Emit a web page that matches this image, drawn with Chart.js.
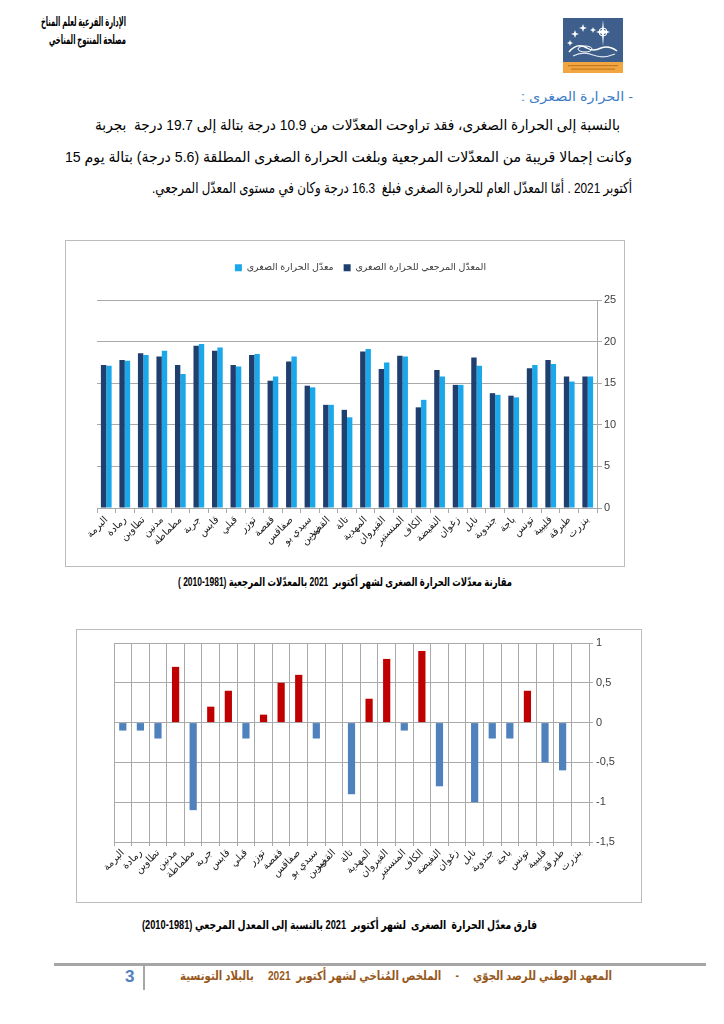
<!DOCTYPE html>
<html lang="ar">
<head>
<meta charset="utf-8">
<script src="https://cdn.jsdelivr.net/npm/chart.js@4.4.1/dist/chart.umd.min.js"></script>
<style>
html,body{margin:0;padding:0;background:#fff;}
body{width:724px;height:1024px;position:relative;overflow:hidden;font-family:"Liberation Sans","DejaVu Sans",sans-serif;color:#000;}
.t{position:absolute;white-space:pre;direction:rtl;transform-origin:0 0;display:inline-block;}
.b{font-weight:bold;}
.box{position:absolute;border:1px solid #bcbcbc;box-sizing:border-box;}
canvas{position:absolute;}
</style>
</head>
<body>

<!-- header -->
<div class="t b" data-l="41" data-r="126" style="left:41px;top:13px;font-size:13px;line-height:17px">الإدارة الفرعية لعلم المناخ</div>
<div class="t b" data-l="49" data-r="126" style="left:49px;top:31px;font-size:13px;line-height:17px">مصلحة المنتوج المناخي</div>

<svg style="position:absolute;left:563px;top:18px" width="60" height="55" viewBox="0 0 60 55">
  <rect x="0" y="0" width="60" height="44" fill="#3e5f8c"/>
  <rect x="0" y="44" width="60" height="11" fill="#f2a640"/>
  <g fill="#ffffff">
    <polygon points="12,12 13,15 16,16 13,17 12,20 11,17 8,16 11,15"/>
    <polygon points="20,6 21,9 24,10 21,11 20,14 19,11 16,10 19,9"/>
    <polygon points="30,9 30.8,11 33,12 30.8,13 30,15 29.2,13 27,12 29.2,11"/>
    <polygon points="7,22 7.8,24 10,25 7.8,26 7,28 6.2,26 4,25 6.2,24"/>
    <polygon points="40,2 41,12 47,14 41,16 40,28 39,16 33,14 39,12"/>
  </g>
  <circle cx="40" cy="14" r="4" fill="none" stroke="#fff" stroke-width="1"/>
  <path d="M6 34 Q14 24 24 30 Q30 34 38 30 Q46 27 54 33" fill="none" stroke="#fff" stroke-width="1.5"/>
  <path d="M10 38 Q20 33 30 37 Q40 41 52 36" fill="none" stroke="#dfe6f0" stroke-width="1.2"/>
  <ellipse cx="22" cy="31" rx="7" ry="3" fill="none" stroke="#fff" stroke-width="1"/>
  <rect x="5" y="47" width="50" height="1.2" fill="#c47a20"/>
  <rect x="8" y="50.5" width="44" height="1.2" fill="#c47a20"/>
</svg>

<!-- heading & paragraph -->
<div class="t" data-l="521" data-r="633" style="left:521px;top:89px;font-size:13px;line-height:16px;color:#3d7dc6">- الحرارة الصغرى :</div>
<div class="t" data-l="95" data-r="620" style="left:95px;top:115px;font-size:15px;line-height:20px">بالنسبة إلى الحرارة الصغرى، فقد تراوحت المعدّلات من 10.9 درجة بتالة إلى 19.7 درجة  بجربة</div>
<div class="t" data-l="65" data-r="632" style="left:65px;top:147px;font-size:15px;line-height:20px">وكانت إجمالا قريبة من المعدّلات المرجعية وبلغت الحرارة الصغرى المطلقة (5.6 درجة) بتالة يوم 15</div>
<div class="t" data-l="152" data-r="632" style="left:152px;top:178px;font-size:15px;line-height:20px">أكتوبر 2021 . أمّا المعدّل العام للحرارة الصغرى فبلغ  16.3 درجة وكان في مستوى المعدّل المرجعي.</div>

<!-- chart 1 -->
<div class="box" style="left:65px;top:240px;width:560px;height:327px"></div>
<canvas id="c1" width="559" height="326" style="left:65px;top:240px;width:559px;height:326px"></canvas>
<div class="t b" data-l="178" data-r="512" style="left:178px;top:574px;font-size:12px;line-height:16px">مقارنة معدّلات الحرارة الصغرى لشهر أكتوبر  2021 بالمعدّلات المرجعية <bdo dir="ltr">( 2010-1981)</bdo></div>

<!-- chart 2 -->
<div class="box" style="left:76px;top:629px;width:566px;height:274px"></div>
<canvas id="c2" width="565" height="273" style="left:76px;top:629px;width:565px;height:273px"></canvas>
<div class="t b" data-l="142" data-r="537" style="left:142px;top:917px;font-size:12px;line-height:16px">فارق معدّل الحرارة  الصغرى  لشهر أكتوبر  2021 بالنسبة إلى المعدل المرجعي <bdo dir="ltr">(2010-1981)</bdo></div>

<!-- footer -->
<div style="position:absolute;left:54px;top:963px;width:652px;height:3px;background:#a6a6a6"></div>
<div style="position:absolute;left:143px;top:965px;width:2px;height:25px;background:#a6a6a6"></div>
<div style="position:absolute;left:125px;top:966px;font-size:17px;line-height:22px;font-weight:bold;color:#4f81bd;font-family:'Liberation Sans',sans-serif">3</div>
<div class="t b" data-l="180" data-r="612" style="left:180px;top:968px;font-size:12.5px;line-height:17px;color:#98581c">المعهد الوطني للرصد الجوّي     -     الملخص المُناخي لشهر أكتوبر  2021     بالبلاد التونسية</div>

<script>
// ---------- data ----------
const stations = ['البرمة','رمادة','تطاوين','مدنين','مطماطة','جربة','قابس','قبلي','توزر','قفصة','صفاقس',['سيدي بو','زيد'],'القصرين','تالة','المهدية','القيروان','المنستير','الكاف','النفيضة','زغوان','نابل','جندوبة','باجة','تونس','قليبية','طبرقة','بنزرت'];
const normalMin = [17.2,17.8,18.6,18.2,17.2,19.5,18.9,17.2,18.4,15.3,17.6,14.7,12.4,11.8,18.8,16.7,18.3,12.1,16.6,14.8,18.1,13.8,13.5,16.8,17.8,15.8,15.8];
const octMin    = [17.1,17.7,18.4,18.9,16.1,19.7,19.3,17.0,18.5,15.8,18.2,14.5,12.4,10.9,19.1,17.5,18.2,13.0,15.8,14.8,17.1,13.6,13.3,17.2,17.3,15.2,15.8];
const anomaly   = [-0.1,-0.1,-0.2,0.7,-1.1,0.2,0.4,-0.2,0.1,0.5,0.6,-0.2,0,-0.9,0.3,0.8,-0.1,0.9,-0.8,0,-1.0,-0.2,-0.2,0.4,-0.5,-0.6,0];
const legendLabels = ['المعدّل المرجعي للحرارة الصغرى','معدّل الحرارة الصغرى'];

// ---------- text fitting ----------
document.querySelectorAll('.t').forEach(el => {
  const l = +el.dataset.l, r = +el.dataset.r;
  const w = el.getBoundingClientRect().width;
  el.style.transform = 'scaleX(' + ((r - l) / w) + ')';
});

// ---------- charts ----------
const FONT = "'Liberation Sans','DejaVu Sans',sans-serif";
Chart.defaults.font.family = FONT;
Chart.defaults.color = '#404040';
Chart.defaults.animation = false;
const GRID = '#a9a9a9';

new Chart(document.getElementById('c1'), {
  type: 'bar',
  data: {
    labels: stations,
    datasets: [
      {label: legendLabels[0], data: normalMin, backgroundColor: '#1f3f6f'},
      {label: legendLabels[1], data: octMin, backgroundColor: '#1ba8ea'}
    ]
  },
  options: {
    responsive: false,
    animation: false,
    layout: {padding: {top: 13, left: 32, right: 0, bottom: 0}},
    datasets: {bar: {categoryPercentage: 0.58, barPercentage: 1}},
    plugins: {
      legend: {display: true, position: 'top', reverse: true,
        labels: {boxWidth: 7, boxHeight: 7, padding: 10, font: {size: 9.5}, color: '#404040'}},
      subtitle: {display: true, text: '', weight: 500, font: {size: 1, lineHeight: 1}, padding: {top: 16.5, bottom: 0}},
      tooltip: {enabled: false}
    },
    scales: {
      x: {
        grid: {display: true, drawOnChartArea: false, drawTicks: true, tickLength: 5, color: GRID},
        border: {display: true, color: GRID},
        ticks: {minRotation: 45, maxRotation: 45, autoSkip: false, font: {size: 10}, color: '#222', padding: 1},
        afterFit: s => { s.height = 58; }
      },
      y: {
        position: 'right', min: 0, max: 25,
        ticks: {stepSize: 5, font: {size: 11}, color: '#404040', padding: 2},
        grid: {color: GRID, tickLength: 5},
        border: {display: true, color: GRID},
        afterFit: s => { s.width = 27; }
      }
    }
  }
});

new Chart(document.getElementById('c2'), {
  type: 'bar',
  data: {
    labels: stations,
    datasets: [{label: 'فارق', data: anomaly, backgroundColor: anomaly.map(v => v > 0 ? '#c00000' : '#4f81bd')}]
  },
  options: {
    responsive: false,
    animation: false,
    layout: {padding: {top: 14, left: 38, right: 0, bottom: 0}},
    datasets: {bar: {categoryPercentage: 1, barPercentage: 0.41}},
    plugins: {legend: {display: false}, tooltip: {enabled: false}},
    scales: {
      x: {
        grid: {display: true, drawOnChartArea: true, tickLength: 4, color: GRID},
        border: {display: true, color: GRID},
        ticks: {minRotation: 45, maxRotation: 45, autoSkip: false, font: {size: 10}, color: '#222', padding: 1},
        afterFit: s => { s.height = 60; }
      },
      y: {
        position: 'right', min: -1.5, max: 1,
        ticks: {stepSize: 0.5, font: {size: 11}, color: '#404040', padding: 3,
          callback: v => String(v).replace('.', ',')},
        grid: {color: GRID, tickLength: 4},
        border: {display: true, color: GRID},
        afterFit: s => { s.width = 52; }
      }
    }
  }
});
</script>
</body>
</html>
